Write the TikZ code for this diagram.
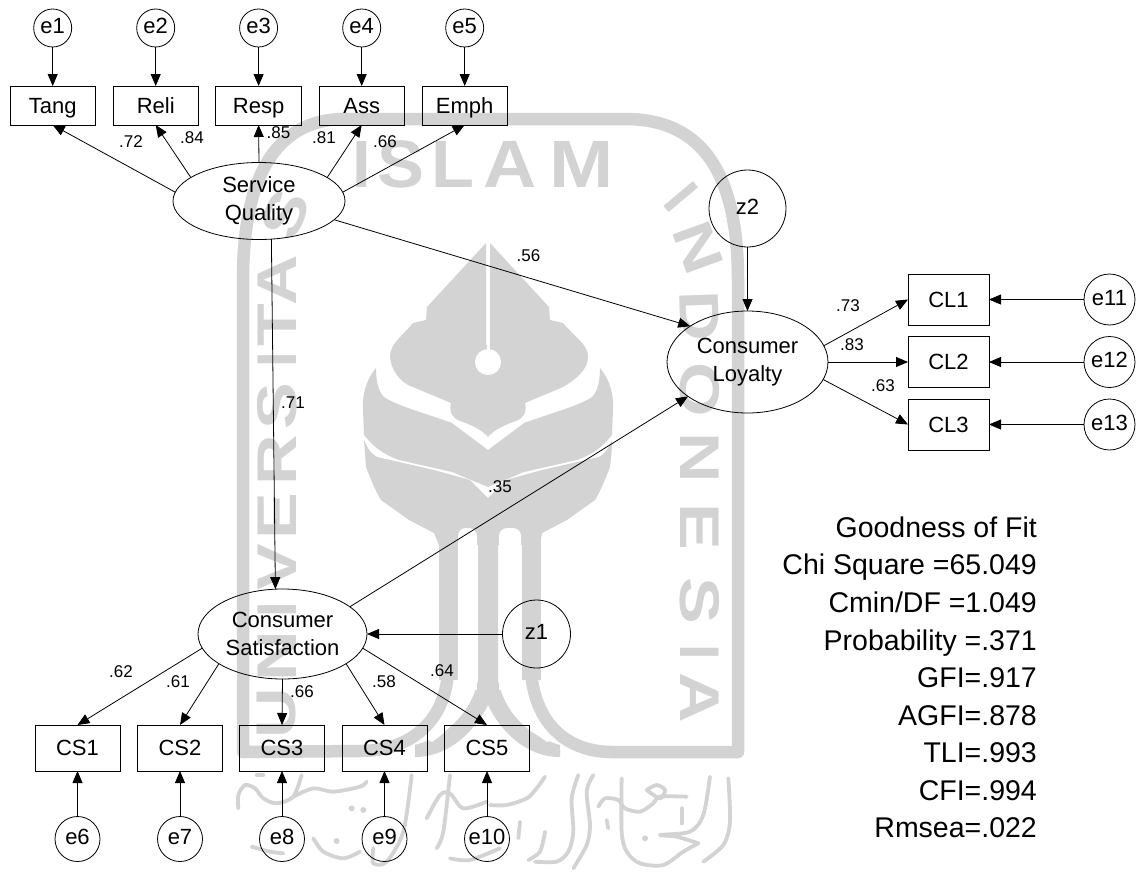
\documentclass[tikz,border=0pt]{standalone}
\usepackage{fontspec}
\setmainfont{Liberation Sans}
\usetikzlibrary{arrows.meta,shapes.geometric}
\definecolor{wm}{HTML}{D3D3D3}
\newcommand{\wmL}[2][1.25]{\scalebox{#1}[1]{#2}}
\tikzset{
  x=1pt,y=-1pt,
  conn/.style={draw=black,line width=0.8pt,-{Triangle[length=12pt,width=10pt]}},
  obs/.style={draw=black,line width=0.8pt,rectangle,inner sep=0pt,outer sep=0pt,font=\fontsize{22}{28}\selectfont,text height=15.5pt,text depth=0pt},
  topbox/.style={obs,minimum width=85.5pt,minimum height=39pt},
  botbox/.style={obs,minimum width=85pt,minimum height=46pt},
  clbox/.style={obs,minimum width=81pt,minimum height=51pt},
  errc/.style={draw=black,line width=0.8pt,circle,inner sep=0pt,outer sep=0pt,font=\fontsize{22}{28}\selectfont,text height=11.5pt,text depth=0pt},
  latent/.style={draw=black,line width=0.8pt,ellipse,inner sep=0pt,outer sep=0pt,align=center,font=\fontsize{22}{28}\selectfont},
  coef/.style={inner sep=0pt,font=\fontsize{17}{20}\selectfont,text height=12pt,text depth=0pt},
  gof/.style={inner sep=0pt,anchor=base east,font=\fontsize{28.5}{34}\selectfont},
  wmA/.style={text=wm,inner sep=0pt,font=\fontsize{67}{70}\bfseries\selectfont},
  wmB/.style={text=wm,inner sep=0pt,font=\fontsize{56}{60}\bfseries\selectfont},
  band/.style={draw=wm,line width=12.5pt,line join=round},
  stem/.style={draw=wm,line width=19pt},
  callig/.style={draw=wm,line width=3.8pt,line cap=round,line join=round},
}
\begin{document}
\begin{tikzpicture}
\path[use as bounding box,fill=white] (0,0) rectangle (1137,873);

% ---- watermark: frame and stems
\draw[band] (448,600) -- (448,672) .. controls (445,722) and (410,751) .. (360,751) -- (243,752) -- (243,280)
  .. controls (243,170) and (280,119) .. (345,119) -- (625,119) .. controls (700,119) and (738,170) .. (738,280)
  -- (738,752) -- (610,752) .. controls (565,751) and (535,722) .. (531,672) -- (531,600);
\draw[stem] (448,535) -- (448,680);
\draw[stem] (531,535) -- (531,680);
% ---- watermark: forked centre stem
\fill[wm] (478,530) -- (478,680) .. controls (472,710) and (450,735) .. (415,745) -- (415,757)
  .. controls (450,757) and (475,730) .. (488,705) .. controls (500,730) and (525,757) .. (560,757) -- (560,745)
  .. controls (525,735) and (504,710) .. (498,680) -- (498,530) -- cycle;
% ---- watermark: leaf layers
\fill[wm] (486,243) -- (427,307) -- (426,320) -- (413,323) .. controls (398,340) and (390,345) .. (390,357)
  .. controls (392,375) and (405,385) .. (413,387) -- (451,403) .. controls (449,412) and (452,418) .. (460,421)
  .. controls (472,425) and (482,430) .. (488,437) .. controls (494,430) and (504,425) .. (516,421)
  .. controls (524,418) and (527,412) .. (525,403)
  -- (563,387) .. controls (575,380) and (588,370) .. (588,357) .. controls (588,345) and (578,340) .. (563,323)
  -- (550,320) -- (549,307) -- (490,243) -- (490,345) -- (486,345) -- cycle;
\fill[white] (488,362) circle[radius=13];
\fill[white] (486.5,243) rectangle (490,352);
\fill[wm] (376,368) .. controls (376,385) and (380,393) .. (384,397) .. controls (395,405) and (430,415) .. (452,423)
  -- (488,450) -- (524,423) .. controls (546,415) and (581,405) .. (592,397) .. controls (596,393) and (600,385) .. (600,368)
  .. controls (610,380) and (614,395) .. (613,410) -- (612,435) .. controls (600,450) and (590,455) .. (577,460)
  -- (524,472) -- (488,487) -- (452,472) -- (399,460) .. controls (386,455) and (376,450) .. (364,435)
  -- (363,410) .. controls (362,395) and (366,380) .. (376,368) -- cycle;
\fill[wm] (364,440) .. controls (368,450) and (372,454) .. (377,457) -- (434,470) -- (470,480) -- (488,498)
  -- (506,480) -- (542,470) -- (599,457) .. controls (604,454) and (608,450) .. (612,440)
  .. controls (612,455) and (610,465) .. (610,467) .. controls (605,480) and (600,492) .. (595,500)
  -- (567,520) -- (542,533) -- (540,545) -- (439,545) -- (434,533) -- (409,520) -- (381,500)
  .. controls (376,492) and (371,480) .. (366,467) -- cycle;
\fill[white,rounded corners=8pt] (458,528) rectangle (477,600);
\fill[white,rounded corners=8pt] (499,528) rectangle (521,600);
\fill[white] (458,590) rectangle (477,690);
\fill[white] (499,590) rectangle (521,690);
\fill[wm] (478,560) rectangle (498,690);
\draw[stem] (448,590) -- (448,680);
\draw[stem] (531,590) -- (531,680);
\fill[white] (458,672) .. controls (458,700) and (445,722) .. (425,738) -- (432,742) .. controls (452,728) and (472,705) .. (477,675) -- cycle;
\fill[white] (521,672) .. controls (521,700) and (534,722) .. (554,738) -- (547,742) .. controls (527,728) and (504,705) .. (499,675) -- cycle;

% ---- watermark: lettering
\node[wmA] (wI) at (362,164) {\wmL[1]{I}};
\node[wmA] (wS) at (401,164) {\wmL[1.05]{S}};
\node[wmA] (wL) at (453,164) {\wmL[1.05]{L}};
\node[wmA] (wA) at (510,164) {\wmL[1.1]{A}};
\node[wmA] (wM) at (582,164) {\wmL[1.15]{M}};
\node[wmB,rotate=90] (uU) at (277,713) {\wmL{U}};
\node[wmB,rotate=90] (uN) at (277,656) {\wmL{N}};
\node[wmB,rotate=90] (uI) at (277,610) {\wmL[1]{I}};
\node[wmB,rotate=90] (uV) at (277,567) {\wmL{V}};
\node[wmB,rotate=90] (uE) at (277,516) {\wmL{E}};
\node[wmB,rotate=90] (uR) at (277,460) {\wmL{R}};
\node[wmB,rotate=90] (uS) at (277,406) {\wmL{S}};
\node[wmB,rotate=90] (uJ) at (277,360) {\wmL[1]{I}};
\node[wmB,rotate=90] (uT) at (277,325) {\wmL{T}};
\node[wmB,rotate=90] (uA) at (277,280) {\wmL{A}};
\node[wmB,rotate=68] (uZ) at (285,215) {\wmL{S}};
\node[wmB,rotate=-50] (iI) at (681,197) {\wmL[1]{I}};
\node[wmB,rotate=-70] (iN) at (698,248) {\wmL{N}};
\node[wmB,rotate=-88] (iD) at (700,316) {\wmL{D}};
\node[wmB,rotate=-90] (iO) at (700,390) {\wmL{O}};
\node[wmB,rotate=-90] (iM) at (700,458) {\wmL{N}};
\node[wmB,rotate=-90] (iE) at (700,527) {\wmL{E}};
\node[wmB,rotate=-90] (iS) at (700,601) {\wmL{S}};
\node[wmB,rotate=-90] (iJ) at (700,652) {\wmL[1]{I}};
\node[wmB,rotate=-90] (iA) at (700,698) {\wmL{A}};

% ---- watermark: calligraphy
\begin{scope}[shift={(230,765)},x=0.3333pt,y=-0.3333pt]
  \draw[callig] plot[smooth] coordinates {(25,130) (25,90) (45,60) (75,70) (100,100) (140,115) (190,95) (215,30)};
  \draw[callig] plot[smooth] coordinates {(190,95) (250,70) (310,80) (390,65) (410,50)};
  \draw[callig] plot[smooth] coordinates {(65,245) (120,260) (160,265)};
  \draw[callig] plot[smooth] coordinates {(250,220) (280,260) (340,280) (390,260)};
  \draw[callig] plot[smooth] coordinates {(430,250) (430,295) (470,290) (520,200) (545,30)};
  \draw[callig] plot[smooth] coordinates {(590,160) (630,90) (660,85) (700,130) (770,110)};
  \draw[callig] plot[smooth] coordinates {(620,250) (640,200) (660,30)};
  \draw[callig] plot[smooth] coordinates {(660,280) (720,285) (810,250)};
  \fill[wm] (365,130) circle[radius=9] (400,135) circle[radius=9] (320,228) circle[radius=9];
  \draw[callig] (80,30) -- (100,30);
\end{scope}
\begin{scope}[shift={(490,765)},x=0.3333pt,y=-0.3333pt]
  \draw[callig] plot[smooth] coordinates {(0,120) (50,120) (110,100) (140,70) (165,35)};
  \draw[callig] (90,170) -- (85,220);
  \draw[callig] plot[smooth] coordinates {(265,30) (245,100) (250,200) (235,260) (200,290) (135,290)};
  \draw[callig] plot[smooth] coordinates {(115,285) (150,260) (165,200)};
  \draw[callig] plot[smooth] coordinates {(310,30) (290,80) (300,180) (290,240) (250,310)};
  \draw[callig] plot[smooth] coordinates {(325,125) (345,100) (385,105) (405,130) (450,140) (490,115) (510,95) (590,95)};
  \draw[callig] plot[smooth] coordinates {(395,40) (395,200) (410,260) (450,295) (520,300) (580,260) (625,235)};
  \draw[callig] plot[smooth] coordinates {(625,235) (560,215) (510,210) (600,200) (640,150) (660,35)};
  \draw[callig] plot[smooth] coordinates {(470,75) (500,60) (525,75) (510,100) (470,75)};
  \draw[callig] (575,130) -- (575,175);
  \draw[callig] (350,165) -- (355,190);
  \fill[wm] (465,220) circle[radius=9];
  \draw[callig] plot[smooth] coordinates {(640,290) (700,240) (720,170) (715,40)};
\end{scope}

% ---- top row
\node[errc,minimum size=38pt] (e1) at (52.7,28) {e1};
\node[errc,minimum size=38pt] (e2) at (155.7,28) {e2};
\node[errc,minimum size=38pt] (e3) at (258.6,28) {e3};
\node[errc,minimum size=38pt] (e4) at (361.7,28) {e4};
\node[errc,minimum size=38pt] (e5) at (464.7,28) {e5};
\node[topbox] (tang) at (52.7,105.5) {Tang};
\node[topbox] (reli) at (155.7,105.5) {Reli};
\node[topbox] (resp) at (258.6,105.5) {Resp};
\node[topbox] (ass) at (361.7,105.5) {Ass};
\node[topbox] (emph) at (464.7,105.5) {Emph};

% ---- latents
\node[latent,minimum width=172pt,minimum height=77pt] (sq) at (259,201) {Service\\Quality};
\node[latent,minimum width=161pt,minimum height=102pt] (cl) at (747.5,362) {Consumer\\Loyalty};
\node[latent,minimum width=169pt,minimum height=90pt] (cs) at (282.5,634) {Consumer\\Satisfaction};
\node[errc,minimum size=77pt] (z2) at (747.5,208.5) {z2};
\node[errc,minimum size=68pt] (z1) at (536.5,634) {z1};

% ---- right block
\node[clbox] (cl1) at (948.5,299.5) {CL1};
\node[clbox] (cl2) at (948.5,362) {CL2};
\node[clbox] (cl3) at (948.5,424.5) {CL3};
\node[errc,minimum size=51pt] (e11) at (1109.5,299.5) {e11};
\node[errc,minimum size=51pt] (e12) at (1109.5,362) {e12};
\node[errc,minimum size=51pt] (e13) at (1109.5,424.5) {e13};

% ---- bottom row
\node[botbox] (cs1) at (77.5,748) {CS1};
\node[botbox] (cs2) at (180,748) {CS2};
\node[botbox] (cs3) at (282,748) {CS3};
\node[botbox] (cs4) at (384.5,748) {CS4};
\node[botbox] (cs5) at (487,748) {CS5};
\node[errc,minimum size=45pt] (e6) at (77.5,839) {e6};
\node[errc,minimum size=45pt] (e7) at (180,839) {e7};
\node[errc,minimum size=45pt] (e8) at (282,839) {e8};
\node[errc,minimum size=45pt] (e9) at (384.5,839) {e9};
\node[errc,minimum size=45pt] (e10) at (487,839) {e10};

% ---- connectors
\draw[conn] (e1.south) -- (tang.north);
\draw[conn] (e2.south) -- (reli.north);
\draw[conn] (e3.south) -- (resp.north);
\draw[conn] (e4.south) -- (ass.north);
\draw[conn] (e5.south) -- (emph.north);
\draw[conn] (sq.174) -- (tang.south);
\draw[conn] (sq.161) -- (reli.south);
\draw[conn] (sq.north) -- (resp.south);
\draw[conn] (sq.19) -- (ass.south);
\draw[conn] (sq.6) -- (emph.south);
\draw[conn] (sq.-14.6) -- (cl.148);
\draw[conn] (sq.-72) -- (cs.99.5);
\draw[conn] (cs.22) -- (cl.210);
\draw[conn] (z2.south) -- (cl.north);
\draw[conn] (z1.west) -- (cs.east);
\draw[conn] (cs.190.5) -- (cs1.north);
\draw[conn] (cs.205.5) -- (cs2.north);
\draw[conn] (cs.south) -- (cs3.north);
\draw[conn] (cs.-25.5) -- (cs4.north);
\draw[conn] (cs.-10.5) -- (cs5.north);
\draw[conn] (e6.north) -- (cs1.south);
\draw[conn] (e7.north) -- (cs2.south);
\draw[conn] (e8.north) -- (cs3.south);
\draw[conn] (e9.north) -- (cs4.south);
\draw[conn] (e10.north) -- (cs5.south);
\draw[conn] (cl.12.5) -- (cl1.west);
\draw[conn] (cl.east) -- (cl2.west);
\draw[conn] (cl.-13) -- (cl3.west);
\draw[conn] (e11.west) -- (cl1.east);
\draw[conn] (e12.west) -- (cl2.east);
\draw[conn] (e13.west) -- (cl3.east);

% ---- coefficients
\node[coef] (c1) at (131,141) {.72};
\node[coef] (c2) at (192,137) {.84};
\node[coef] (c3) at (278.5,132) {.85};
\node[coef] (c4) at (324,137) {.81};
\node[coef] (c5) at (385,141) {.66};
\node[coef] (c6) at (528.5,255) {.56};
\node[coef] (c7) at (293,402) {.71};
\node[coef] (c8) at (500,486) {.35};
\node[coef] (c9) at (121,671) {.62};
\node[coef] (c10) at (178,681) {.61};
\node[coef] (c11) at (302,691) {.66};
\node[coef] (c12) at (384,681) {.58};
\node[coef] (c13) at (442,670) {.64};
\node[coef] (c14) at (848,305) {.73};
\node[coef] (c15) at (852,344) {.83};
\node[coef] (c16) at (883,385) {.63};

% ---- fit block
\node[gof] (g1) at (1037,537) {Goodness of Fit};
\node[gof] (g2) at (1037,574) {Chi Square =65.049};
\node[gof] (g3) at (1037,612) {Cmin/DF =1.049};
\node[gof] (g4) at (1037,650) {Probability =.371};
\node[gof] (g5) at (1037,687) {GFI=.917};
\node[gof] (g6) at (1037,725) {AGFI=.878};
\node[gof] (g7) at (1037,762) {TLI=.993};
\node[gof] (g8) at (1037,800) {CFI=.994};
\node[gof] (g9) at (1037,837) {Rmsea=.022};
\end{tikzpicture}
\end{document}
